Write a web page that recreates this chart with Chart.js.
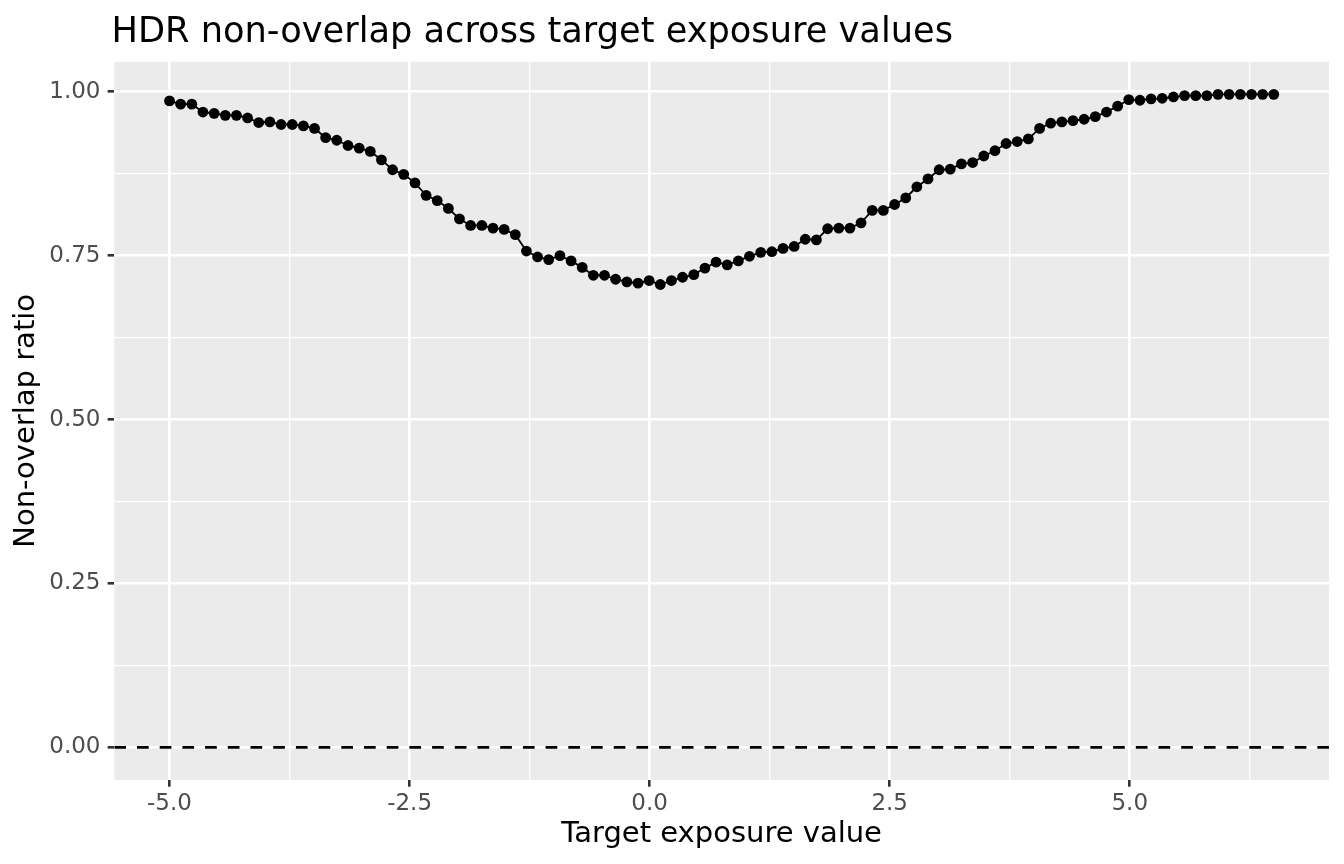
<!DOCTYPE html>
<html>
<head>
<meta charset="utf-8">
<title>HDR non-overlap across target exposure values</title>
<script src="https://cdn.jsdelivr.net/npm/chart.js@4.4.1/dist/chart.umd.min.js"></script>
<style>
  html, body { margin: 0; padding: 0; background: #ffffff; }
  canvas { display: block; }
</style>
</head>
<body>
<canvas id="chart" width="1344" height="864"></canvas>
<script>
// target exposure values (100 evenly spaced points, -5 to 6.5)
const exposure = [
  -5.000, -4.884, -4.768, -4.652, -4.535, -4.419, -4.303, -4.187, -4.071, -3.955,
  -3.838, -3.722, -3.606, -3.490, -3.374, -3.258, -3.141, -3.025, -2.909, -2.793,
  -2.677, -2.561, -2.444, -2.328, -2.212, -2.096, -1.980, -1.864, -1.747, -1.631,
  -1.515, -1.399, -1.283, -1.167, -1.051, -0.934, -0.818, -0.702, -0.586, -0.470,
  -0.354, -0.237, -0.121, -0.005, 0.111, 0.227, 0.343, 0.460, 0.576, 0.692,
  0.808, 0.924, 1.040, 1.157, 1.273, 1.389, 1.505, 1.621, 1.737, 1.854,
  1.970, 2.086, 2.202, 2.318, 2.434, 2.551, 2.667, 2.783, 2.899, 3.015,
  3.131, 3.247, 3.364, 3.480, 3.596, 3.712, 3.828, 3.944, 4.061, 4.177,
  4.293, 4.409, 4.525, 4.641, 4.758, 4.874, 4.990, 5.106, 5.222, 5.338,
  5.455, 5.571, 5.687, 5.803, 5.919, 6.035, 6.152, 6.268, 6.384, 6.500
];

// non-overlap ratio
const ratio = [
  0.986, 0.981, 0.981, 0.969, 0.967, 0.964, 0.964, 0.960, 0.953, 0.954,
  0.950, 0.950, 0.948, 0.944, 0.930, 0.926, 0.918, 0.914, 0.909, 0.896,
  0.881, 0.874, 0.861, 0.842, 0.834, 0.822, 0.806, 0.796, 0.796, 0.792,
  0.790, 0.782, 0.757, 0.748, 0.744, 0.750, 0.742, 0.732, 0.720, 0.720,
  0.714, 0.710, 0.708, 0.712, 0.706, 0.712, 0.717, 0.721, 0.731, 0.740,
  0.736, 0.742, 0.749, 0.755, 0.756, 0.761, 0.764, 0.775, 0.774, 0.791,
  0.792, 0.792, 0.800, 0.819, 0.819, 0.828, 0.838, 0.855, 0.867, 0.881,
  0.882, 0.890, 0.892, 0.902, 0.910, 0.921, 0.924, 0.928, 0.944, 0.952,
  0.954, 0.956, 0.958, 0.962, 0.969, 0.978, 0.988, 0.987, 0.989, 0.990,
  0.992, 0.994, 0.994, 0.994, 0.996, 0.996, 0.996, 0.996, 0.996, 0.996
];

const xTicks = [-5, -2.5, 0, 2.5, 5];
const yTicks = [0, 0.25, 0.5, 0.75, 1];
const refLine = 0;  // dashed horizontal line

const FONT = '"DejaVu Sans", "Liberation Sans", sans-serif';
const xMin = -5.575, xMax = 7.075;
const yMin = -0.0498, yMax = 1.0458;

function isMajor(v, list) {
  return list.some(t => Math.abs(t - v) < 1e-6);
}

// grey ggplot-like panel and the title
const panelPlugin = {
  id: 'panel',
  beforeDraw(chart) {
    const { ctx, chartArea: a } = chart;
    ctx.save();
    ctx.fillStyle = '#EBEBEB';
    ctx.fillRect(a.left, a.top, a.right - a.left, a.bottom - a.top);
    ctx.restore();
  },
  afterDraw(chart) {
    const { ctx } = chart;
    ctx.save();
    ctx.font = '35.2px ' + FONT;
    ctx.fillStyle = '#000000';
    ctx.textBaseline = 'alphabetic';
    ctx.textAlign = 'left';
    ctx.fillText('HDR non-overlap across target exposure values', 111.5, 41.7);
    ctx.restore();
  }
};

const points = exposure.map((x, i) => ({ x: x, y: ratio[i] }));

new Chart(document.getElementById('chart'), {
  type: 'scatter',
  data: {
    datasets: [
      {
        data: [{ x: xMin, y: refLine }, { x: xMax, y: refLine }],
        showLine: true,
        borderColor: '#000000',
        borderWidth: 2.6,
        borderDash: [11.7, 11],
        pointRadius: 0,
        order: 2
      },
      {
        data: points,
        showLine: true,
        borderColor: '#000000',
        borderWidth: 1.8,
        backgroundColor: '#000000',
        pointRadius: 5.4,
        pointBorderWidth: 0,
        order: 1
      }
    ]
  },
  options: {
    responsive: false,
    animation: false,
    devicePixelRatio: 1,
    layout: { padding: { top: 61.7, right: 15, bottom: 0, left: 0 } },
    plugins: {
      legend: { display: false },
      tooltip: { enabled: false }
    },
    scales: {
      x: {
        type: 'linear',
        min: xMin,
        max: xMax,
        border: { display: false },
        grid: {
          color: '#FFFFFF',
          lineWidth: ctx => (ctx.tick && isMajor(ctx.tick.value, xTicks)) ? 2.6 : 1.3,
          tickColor: ctx => (ctx.tick && isMajor(ctx.tick.value, xTicks)) ? '#333333' : 'rgba(0,0,0,0)',
          tickWidth: 2.6,
          tickLength: 6.7
        },
        ticks: {
          stepSize: 1.25,
          includeBounds: false,
          autoSkip: false,
          maxRotation: 0,
          padding: 3.2,
          color: '#4D4D4D',
          font: { family: FONT, size: 23 },
          callback: v => isMajor(v, xTicks) ? v.toFixed(1) : ''
        },
        title: {
          display: true,
          text: 'Target exposure value',
          color: '#000000',
          font: { family: FONT, size: 29 },
          padding: { top: 0, bottom: 12 }
        },
        afterFit: s => { s.height = 84; }
      },
      y: {
        type: 'linear',
        min: yMin,
        max: yMax,
        border: { display: false },
        grid: {
          color: '#FFFFFF',
          lineWidth: ctx => (ctx.tick && isMajor(ctx.tick.value, yTicks)) ? 2.6 : 1.3,
          tickColor: ctx => (ctx.tick && isMajor(ctx.tick.value, yTicks)) ? '#333333' : 'rgba(0,0,0,0)',
          tickWidth: 2.6,
          tickLength: 6.7
        },
        ticks: {
          stepSize: 0.125,
          includeBounds: false,
          autoSkip: false,
          padding: 7.1,
          color: '#4D4D4D',
          font: { family: FONT, size: 23 },
          callback: v => isMajor(v, yTicks) ? v.toFixed(2) : ''
        },
        title: {
          display: true,
          text: 'Non-overlap ratio',
          color: '#000000',
          font: { family: FONT, size: 29 },
          padding: { top: 9.1, bottom: 0 }
        },
        afterFit: s => { s.width = 114.3; }
      }
    }
  },
  plugins: [panelPlugin]
});
</script>
</body>
</html>
